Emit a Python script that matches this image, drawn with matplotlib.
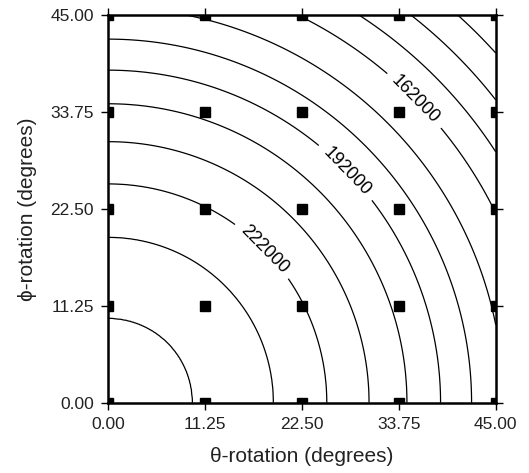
import numpy as np
import matplotlib
matplotlib.use("Agg")
import matplotlib.pyplot as plt

plt.rcParams["font.family"] = ["Liberation Sans", "DejaVu Sans"]

# contour levels and the radius (deg) where each one crosses the axes
levels = [132000, 142000, 152000, 162000, 172000, 182000,
          192000, 202000, 212000, 222000, 232000, 242000]
level_radius = [60.6, 57.1, 53.6, 50.1, 45.9, 42.2,
                38.6, 34.7, 30.3, 25.4, 19.2, 9.8]
center_value = 245500   # estimated value at the origin
corner_value = 122000   # estimated value beyond the last contour
corner_radius = 64.0

grid_deg = [0.0, 11.25, 22.5, 33.75, 45.0]
tick_labels = ["0.00", "11.25", "22.50", "33.75", "45.00"]
labelled = [162000, 192000, 222000]
label_pos = [(36.0, 35.5), (28.3, 27.4), (18.0, 17.7)]

# radial profile -> field
prof_r = np.array([0.0] + level_radius[::-1] + [corner_radius])
prof_v = np.array([center_value] + levels[::-1] + [corner_value])
t = np.linspace(0, 45, 401)
X, Y = np.meshgrid(t, t)
Z = np.interp(np.hypot(X, Y), prof_r, prof_v)

fig = plt.figure(figsize=(5.29, 4.73), dpi=100)
ax = fig.add_axes([108 / 529, 1 - 402.7 / 473, 387.7 / 529, 387.7 / 473])

plain = [lv for lv in levels if lv not in labelled]
ax.contour(X, Y, Z, levels=plain, colors="black", linewidths=0.9)
cs = ax.contour(X, Y, Z, levels=labelled, colors="black", linewidths=0.9)
ax.clabel(cs, fmt="%d", fontsize=13, inline=True,
          inline_spacing=8, manual=label_pos)

gx, gy = np.meshgrid(grid_deg, grid_deg)
ax.plot(gx.ravel(), gy.ravel(), "s", color="black", markersize=6.8,
        clip_on=True, zorder=3)

ax.set_xlim(0, 45)
ax.set_ylim(0, 45)
ax.set_xticks(grid_deg)
ax.set_yticks(grid_deg)
ax.set_xticklabels(tick_labels)
ax.set_yticklabels(tick_labels)
ax.tick_params(direction="out", length=5, width=1, top=True, right=True,
               labelsize=12.5, pad=5, colors="black", labelcolor="#222222")
for s in ax.spines.values():
    s.set_linewidth(1.8)
    s.set_zorder(4)

ax.set_xlabel("θ-rotation (degrees)", fontsize=15, labelpad=11, color="#222222")
ax.set_ylabel("ϕ-rotation (degrees)", fontsize=15, labelpad=10, color="#222222")

fig.savefig("out.png", dpi=100)
